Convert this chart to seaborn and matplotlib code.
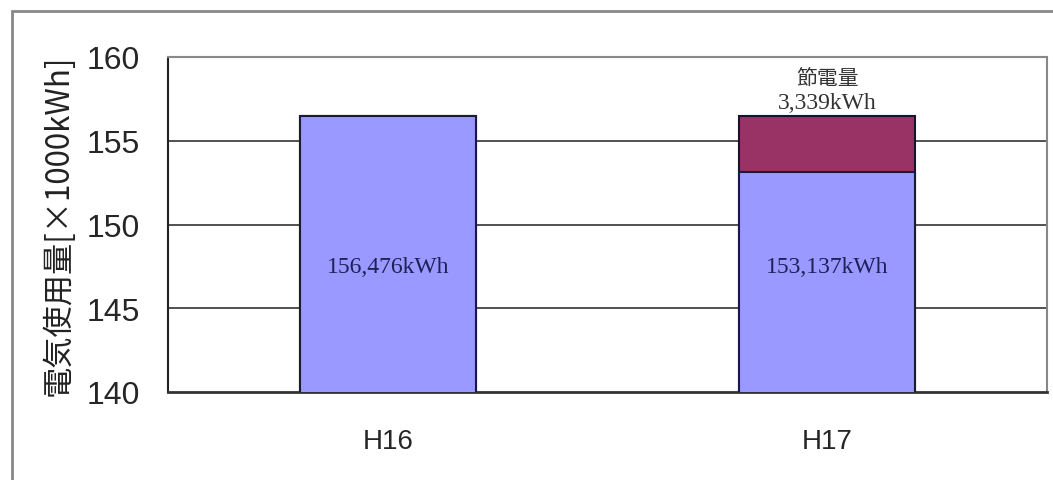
import matplotlib
matplotlib.use("Agg")
import matplotlib.pyplot as plt
import seaborn as sns
import pandas as pd
from matplotlib.patches import Rectangle
from matplotlib.ticker import FixedLocator

# Electricity consumption, units of 1000 kWh
years = ["H16", "H17"]
usage = [156.476, 153.137]
saving = [0.0, 3.339]
usage_labels = ["156,476kWh", "153,137kWh"]
saving_title = "節電量"
saving_label = "3,339kWh"
y_ticks = [140, 145, 150, 155, 160]
y_label = "電気使用量[×1000kWh]"

BLUE = "#9999FF"
MAROON = "#993366"

sns.set_theme(style="white")
plt.rcParams["font.family"] = ["Liberation Sans", "DejaVu Sans"]

df = pd.DataFrame({
    "year": years,
    "usage": usage,
    "total": [u + s for u, s in zip(usage, saving)],
})

fig = plt.figure(figsize=(10.53, 4.81), dpi=100)
ax = fig.add_axes([168 / 1053, 1 - 393 / 481, (1047 - 168) / 1053, (393 - 58) / 481])

# Stacked bars: total in maroon underneath, usage in blue on top
sns.barplot(data=df, x="year", y="total", color=MAROON, saturation=1,
            width=0.4, edgecolor="#1a1030", linewidth=1.5, ax=ax, zorder=3)
sns.barplot(data=df, x="year", y="usage", color=BLUE, saturation=1,
            width=0.4, edgecolor="#1a1a40", linewidth=1.5, ax=ax, zorder=4)

ax.set_ylim(140, 160)
ax.set_xlim(-0.5, 1.5)
ax.set_yticks(y_ticks)
ax.set_yticklabels([str(t) for t in y_ticks], fontsize=23)
ax.tick_params(axis="y", length=0, pad=20)
ax.tick_params(axis="x", which="major", length=0, labelsize=20, pad=26)
ax.xaxis.set_minor_locator(FixedLocator([0.5]))
ax.tick_params(axis="x", which="minor", direction="in", length=6, width=1.2, color="#444444")
ax.set_xlabel("")
ax.set_ylabel(y_label, fontsize=22.5, family=["Noto Sans CJK JP", "DejaVu Sans"],
              labelpad=9, color="#222222")

for y in y_ticks[1:-1]:
    ax.axhline(y, color="#333333", lw=1.2, zorder=1)

for name, sp in ax.spines.items():
    sp.set_visible(True)
    sp.set_color("#888888")
    sp.set_linewidth(1.5)
ax.spines["left"].set_color("#222222")
ax.spines["bottom"].set_color("#333333")
ax.spines["bottom"].set_linewidth(2)

# Value labels
serif = ["Liberation Serif", "DejaVu Serif"]
for i, (u, lab) in enumerate(zip(usage, usage_labels)):
    ax.text(i, 147.5, lab, ha="center", va="center", fontsize=17,
            family=serif, color="#1f1f5a", zorder=6)

top = usage[1] + saving[1]
ax.text(1, top + 0.8, saving_label, ha="center", va="center", fontsize=17,
        family=serif, color="#333333", zorder=6)
ax.text(1, top + 2.3, saving_title, ha="center", va="center", fontsize=15,
        family=["Noto Sans CJK JP", "DejaVu Sans"], color="#333333", zorder=6)

# Outer chart-area frame
fig.patches.append(Rectangle((12 / 1053, -0.1), 1.2, 1 - 12 / 481 + 0.1,
                             transform=fig.transFigure, fill=False,
                             edgecolor="#888888", linewidth=2))

fig.savefig("out.png", dpi=100)
